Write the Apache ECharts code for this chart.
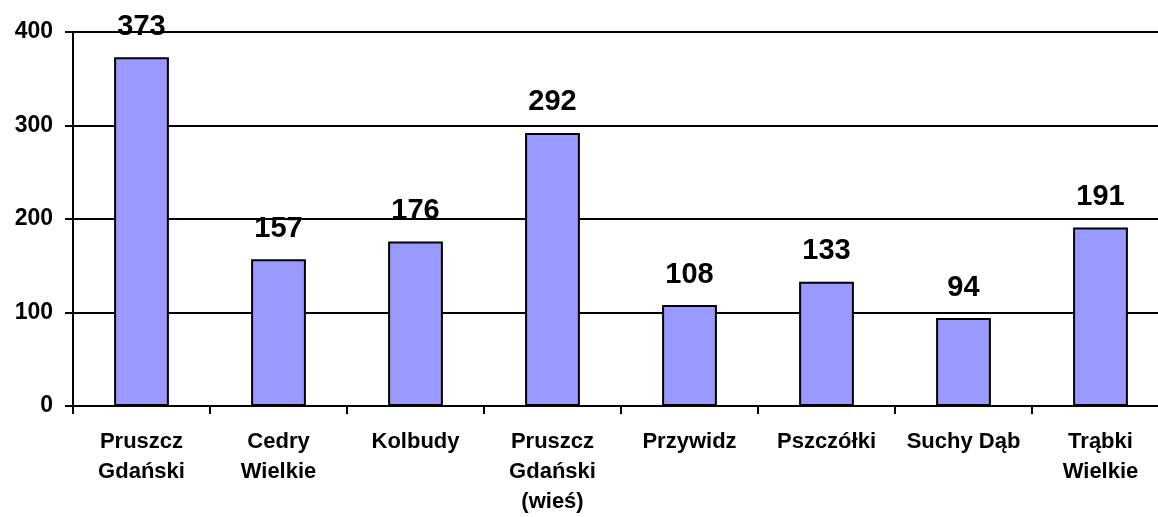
<!DOCTYPE html>
<html>
<head>
<meta charset="utf-8">
<script src="https://cdn.jsdelivr.net/npm/echarts@6/dist/echarts.min.js"></script>
<style>
    html, body { margin: 0; padding: 0; background: #fff; overflow: hidden; }
    /* plot area runs past the right edge, like the cropped original */
    #chart { width: 1170px; height: 517px; }
</style>
</head>
<body>
<div id="chart"></div>
<script>
const categories = ['Pruszcz\nGdański', 'Cedry\nWielkie', 'Kolbudy', 'Pruszcz\nGdański\n(wieś)', 'Przywidz', 'Pszczółki', 'Suchy Dąb', 'Trąbki\nWielkie'];
const values = [373, 157, 176, 292, 108, 133, 94, 191];
const yTicks = [0, 100, 200, 300, 400];

var chartDom = document.getElementById('chart');
var myChart = echarts.init(chartDom);
var option;

option = {
    animation: false,
    textStyle: { fontFamily: 'Liberation Sans, Arial, sans-serif' },
    grid: { left: 73, right: 1, top: 32, bottom: 111 },
    xAxis: {
        type: 'category',
        data: categories,
        axisLine: { lineStyle: { color: '#000', width: 2 } },
        axisTick: { show: true, length: 8, lineStyle: { color: '#000', width: 2 } },
        axisLabel: {
            color: '#000',
            fontSize: 22,
            fontWeight: 'bold',
            lineHeight: 30,
            margin: 21,
            interval: 0
        }
    },
    yAxis: {
        type: 'value',
        min: yTicks[0],
        max: yTicks[yTicks.length - 1],
        interval: 100,
        axisLine: { show: true, lineStyle: { color: '#000', width: 2 } },
        axisTick: { show: true, length: 8, lineStyle: { color: '#000', width: 2 } },
        axisLabel: { color: '#000', fontSize: 23, fontWeight: 'bold', margin: 20 },
        splitLine: { lineStyle: { color: '#000', width: 2 } }
    },
    series: [
        {
            type: 'bar',
            data: values,
            barWidth: '40%',
            itemStyle: { color: '#9999FF', borderColor: '#000', borderWidth: 2 },
            label: {
                show: true,
                position: 'top',
                distance: 16,
                color: '#000',
                fontSize: 29,
                fontWeight: 'bold'
            }
        }
    ]
};

option && myChart.setOption(option);
</script>
</body>
</html>
